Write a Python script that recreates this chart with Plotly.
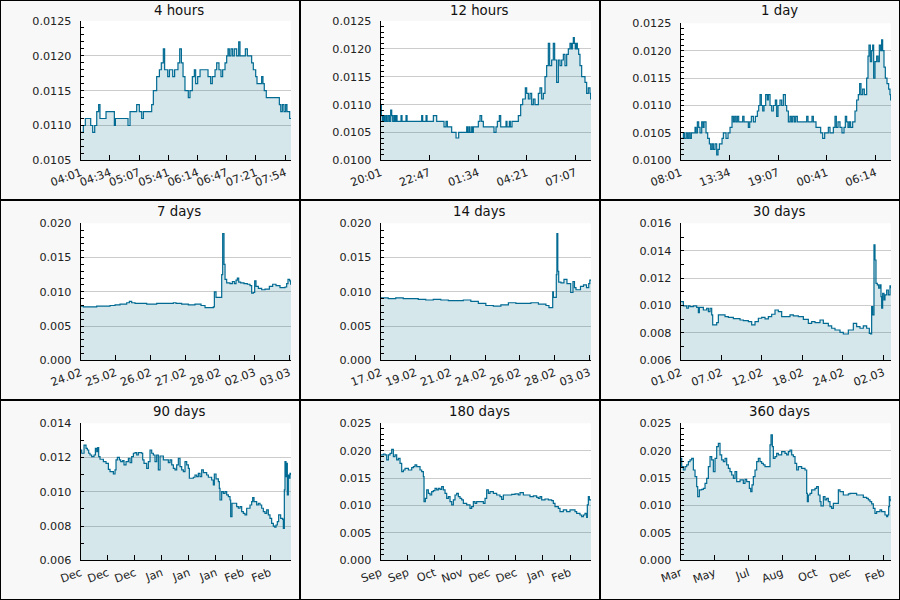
import plotly.graph_objects as go

# ---------------- data (time offset from window start, price) ----------------
# hour panels: minutes; day panels: days
H4 = [(0, .0109), (3, .0110), (5.3, .0111), (11.4, .0110), (13.7, .0109), (16, .0110), (18.3, .0112),
      (20.5, .0113), (22, .0111), (28.9, .0112), (38.4, .0110), (39.6, .0111), (54, .0110), (56.3, .0112),
      (63.9, .0113), (66.9, .0112), (69.6, .0111), (71.5, .0112), (81, .0113), (82.9, .0115), (86.7, .0117),
      (89.8, .0118), (92, .0119), (94.3, .0121), (95.8, .0118), (99.3, .0117), (101.2, .0118), (105, .0117),
      (107.2, .0118), (111, .0119), (113, .0121), (114.9, .0119), (116.8, .0117), (119, .0115), (122.8, .0114),
      (124.7, .0115), (127.4, .0117), (129.7, .0118), (131.2, .0116), (133.5, .0117), (136.2, .0118),
      (145.3, .0117), (148.3, .0116), (150.2, .0117), (153.3, .0118), (155.2, .0119), (157.8, .0118),
      (160.1, .0117), (162, .0118), (164.7, .0119), (166.6, .0120), (168.1, .0121), (169.6, .0120),
      (171.5, .0121), (173.4, .0120), (175.3, .0121), (178, .0120), (180.3, .0122), (181.8, .0120),
      (187.9, .0121), (190.2, .0120), (195.1, .0119), (197, .0118), (199.7, .0117), (201.2, .0116),
      (206.5, .0117), (208, .0116), (209.5, .0115), (211.8, .0114), (226.7, .0113), (228.3, .0112),
      (230.1, .0113), (232, .0112), (233.9, .0113), (235.4, .0112), (238.5, .0111), (240, .0111)]

H12 = [(0, .0110), (2.3, .0108), (5.7, .0107), (9.1, .0108), (12.6, .0107), (17.1, .0108), (20.5, .0107),
       (25.1, .0108), (29.7, .0107), (34.2, .0109), (37.7, .0108), (41.1, .0107), (45.6, .0108), (49.1, .0107),
       (52.5, .0108), (55.9, .0107), (69.6, .0108), (73.0, .0107), (86.7, .0108), (90.2, .0107), (140.3, .0108),
       (143.8, .0107), (155.2, .0108), (158.6, .0107), (180.3, .0108), (191.7, .0107), (216.8, .0106),
       (223.6, .0107), (228.2, .0106), (243.0, .0105), (257.9, .0104), (267.0, .0105), (294.4, .0106),
       (297.8, .0105), (302.4, .0106), (305.8, .0105), (311.5, .0106), (314.9, .0105), (317.2, .0106),
       (334.3, .0107), (340.0, .0108), (345.7, .0107), (351.4, .0106), (387.9, .0105), (394.8, .0106),
       (399.4, .0107), (406.2, .0108), (410.8, .0106), (429.0, .0107), (432.4, .0106), (440.4, .0107),
       (443.8, .0106), (449.6, .0107), (471.2, .0108), (479.2, .0110), (486.1, .0111), (495.2, .0113),
       (499.8, .0112), (505.5, .0111), (511.2, .0112), (516.9, .0110), (522.6, .0111), (528.3, .0110),
       (539.7, .0112), (545.4, .0113), (551.1, .0111), (556.8, .0112), (562.5, .0115), (568.2, .0117),
       (573.9, .0121), (578.5, .0117), (585.3, .0118), (591.0, .0121), (595.6, .0118), (602.4, .0114),
       (608.2, .0118), (613.9, .0117), (619.6, .0118), (625.3, .0119), (631.0, .0117), (636.7, .0119),
       (642.4, .0120), (648.1, .0121), (652.7, .0120), (656.1, .0121), (659.5, .0122), (662.9, .0121),
       (666.3, .0120), (669.8, .0121), (673.2, .0120), (677.8, .0119), (682.3, .0117), (688.0, .0115),
       (699.4, .0114), (705.1, .0112), (710.8, .0113), (716.5, .0112), (718.8, .0111), (720, .0111)]

D1 = [(0, .0104), (18.3, .0105), (25.1, .0104), (36.5, .0105), (45.6, .0104), (54.8, .0105), (63.9, .0104),
      (73.0, .0105), (98.1, .0106), (105.0, .0105), (114.1, .0107), (123.2, .0106), (132.4, .0105),
      (143.8, .0107), (152.9, .0106), (159.7, .0107), (173.4, .0105), (184.8, .0104), (196.3, .0103),
      (205.4, .0102), (214.5, .0103), (223.6, .0102), (235.0, .0103), (246.5, .0101), (255.6, .0102),
      (264.7, .0103), (283.0, .0104), (292.1, .0105), (310.4, .0104), (324.0, .0105), (337.7, .0106),
      (351.4, .0108), (360.6, .0107), (369.7, .0108), (378.8, .0107), (387.9, .0108), (397.1, .0107),
      (424.5, .0108), (433.6, .0107), (463.2, .0106), (472.4, .0107), (483.8, .0108), (497.5, .0107),
      (511.2, .0108), (524.9, .0109), (534.0, .0110), (543.1, .0112), (552.2, .0110), (561.4, .0109),
      (570.5, .0110), (581.9, .0112), (593.3, .0111), (600.2, .0112), (611.6, .0110), (623.0, .0109),
      (634.4, .0110), (648.1, .0111), (657.2, .0108), (666.3, .0110), (680.0, .0111), (691.4, .0110),
      (702.9, .0112), (716.5, .0110), (725.7, .0109), (737.1, .0107), (748.5, .0108), (757.6, .0107),
      (766.8, .0108), (778.2, .0107), (787.3, .0108), (798.7, .0107), (862.6, .0108), (871.7, .0107),
      (899.1, .0108), (908.2, .0107), (926.5, .0106), (958.4, .0105), (972.1, .0104), (985.8, .0105),
      (1010.9, .0106), (1022.3, .0105), (1045.2, .0106), (1056.6, .0108), (1065.7, .0106), (1077.1, .0107),
      (1090.8, .0106), (1104.5, .0105), (1118.2, .0106), (1127.3, .0108), (1136.4, .0107), (1145.6, .0106),
      (1154.7, .0107), (1163.8, .0106), (1177.5, .0107), (1193.5, .0109), (1204.9, .0111), (1216.3, .0112),
      (1225.4, .0114), (1234.6, .0112), (1245.9, .0113), (1257.4, .0112), (1273.4, .0115), (1282.5, .0119),
      (1289.3, .0121), (1298.5, .0118), (1307.6, .0120), (1314.4, .0121), (1321.3, .0115), (1330.4, .0118),
      (1341.8, .0119), (1351.0, .0118), (1360.1, .0121), (1369.2, .0120), (1376.0, .0122), (1382.9, .0120),
      (1392.0, .0117), (1401.2, .0115), (1412.6, .0114), (1424.0, .0113), (1433.1, .0112), (1437.7, .0111),
      (1440, .0111)]

D7 = [(0, .0079), (0.089, .0078), (0.533, .0079), (0.976, .0080), (1.143, .0081), (1.309, .0082),
      (1.531, .0084), (1.620, .0086), (1.697, .0084), (1.808, .0083), (2.197, .0082), (2.529, .0083),
      (3.084, .0084), (3.173, .0083), (3.361, .0082), (3.583, .0081), (3.805, .0082), (4.005, .0080),
      (4.138, .0077), (4.415, .0078), (4.449, .0100), (4.504, .0092), (4.693, .0125), (4.726, .0185),
      (4.770, .0140), (4.804, .0118), (4.859, .0113), (4.970, .0112), (5.048, .0115), (5.114, .0112),
      (5.170, .0117), (5.214, .0120), (5.259, .0114), (5.325, .0113), (5.436, .0112), (5.547, .0111),
      (5.636, .0109), (5.691, .0098), (5.747, .0099), (5.791, .0116), (5.835, .0108), (5.913, .0105),
      (6.024, .0103), (6.135, .0104), (6.279, .0108), (6.390, .0111), (6.501, .0109), (6.634, .0106),
      (6.801, .0107), (6.856, .0112), (6.900, .0118), (6.956, .0116), (6.989, .0111), (7, .0111)]

D14 = [(0, .0091), (0.5, .0090), (1.0, .0091), (1.5, .0090), (2.0, .0090), (2.5, .0089), (3.0, .0088),
       (3.5, .0089), (4.0, .0088), (4.5, .0087), (5.0, .0087), (5.5, .0088), (6.0, .0086), (6.5, .0083),
       (7.0, .0080), (7.5, .0079), (8.0, .0081), (8.5, .0084), (9.0, .0083), (9.5, .0083), (10.0, .0084),
       (10.5, .0082), (11.0, .0080), (11.2, .0077), (11.45, .0100), (11.5, .0092), (11.69, .0125),
       (11.73, .0185), (11.79, .0130), (11.85, .0114), (12.0, .0113), (12.2, .0118), (12.4, .0112),
       (12.65, .0099), (12.8, .0115), (12.9, .0106), (13.0, .0103), (13.3, .0108), (13.5, .0110),
       (13.7, .0106), (13.85, .0112), (13.92, .0117), (14, .0117)]

D30 = [(0, .01028), (0.38, .00997), (0.856, .0098), (1.093, .00997), (1.331, .00992), (1.807, .00997),
       (2.282, .00987), (2.52, .00948), (2.662, .00987), (3.233, .00967), (3.708, .0098), (3.946, .00955),
       (4.184, .0098), (4.421, .00931), (4.564, .00858), (4.897, .00858), (5.134, .00875), (5.372, .00931),
       (5.847, .00931), (6.323, .00919), (6.798, .00914), (7.511, .00904), (8.462, .00894), (8.938, .0089),
       (9.651, .00882), (10.126, .00858), (10.602, .00882), (11.077, .00907), (11.552, .00914),
       (12.028, .00902), (12.503, .00919), (12.978, .00936), (13.454, .00967), (13.929, .00955),
       (14.405, .00919), (14.88, .00919), (15.593, .00931), (16.069, .00924), (16.782, .00919),
       (17.495, .00899), (18.208, .0087), (18.683, .00882), (19.159, .00875), (19.872, .00894),
       (20.347, .0087), (21.06, .00851), (21.536, .00834), (22.011, .00821), (22.724, .00804),
       (23.2, .00792), (23.913, .00821), (24.626, .0087), (25.101, .00846), (25.577, .00834),
       (26.052, .00851), (26.527, .00834), (26.908, .00797), (27.098, .00792), (27.24, .00992),
       (27.383, .00931), (27.573, .01442), (27.716, .01332), (27.858, .01162), (28.049, .0115),
       (28.239, .01126), (28.429, .0115), (28.572, .01065), (28.667, .0098), (28.81, .01089), (29.0, .0104),
       (29.143, .01077), (29.381, .01113), (29.618, .01077), (29.856, .01143), (30, .01126)]

D90 = [(0, .01244), (0.43, .01225), (1.43, .01273), (2.28, .01254), (2.85, .01244), (3.42, .01225),
       (3.99, .01215), (4.71, .01205), (5.71, .01215), (6.28, .01254), (6.85, .01235), (7.27, .01258),
       (7.70, .01205), (8.27, .0119), (9.70, .01176), (10.84, .01166), (11.84, .01131), (12.55, .01118),
       (13.98, .01104), (14.69, .01128), (15.12, .01186), (15.69, .01201), (16.55, .01186), (17.12, .01176),
       (17.97, .01182), (18.54, .01157), (19.40, .01176), (20.40, .01196), (21.11, .0117), (21.82, .01205),
       (22.54, .01225), (23.25, .01229), (23.96, .01215), (24.67, .01229), (26.10, .01225), (26.53, .01186),
       (27.10, .01166), (28.24, .01137), (28.95, .01176), (29.67, .01244), (30.38, .01225), (31.09, .01215),
       (31.81, .01176), (32.52, .01215), (33.23, .01128), (33.95, .01209), (35.37, .01186), (37.51, .0117),
       (38.22, .01186), (38.94, .01157), (39.65, .01137), (40.36, .01128), (41.08, .01157), (41.79, .01196),
       (42.50, .01147), (43.22, .01128), (43.93, .01118), (44.64, .01176), (45.36, .01157), (46.07, .01137),
       (46.50, .01079), (48.21, .01085), (48.92, .01098), (49.64, .01089), (50.35, .01108), (51.06, .01089),
       (51.77, .01128), (52.49, .01112), (53.91, .01098), (54.63, .01085), (56.05, .01069), (56.77, .0104),
       (57.19, .01104), (57.91, .01075), (58.91, .01059), (59.33, .0102), (59.62, .00952), (60.33, .01001),
       (61.05, .00991), (61.76, .01001), (62.47, .00982), (63.18, .00972), (63.90, .00952), (64.18, .00855),
       (64.75, .00933), (66.75, .00913), (67.46, .00904), (68.18, .00913), (68.89, .00884), (69.60, .00874),
       (70.32, .00865), (71.03, .00904), (72.46, .00923), (73.17, .00943), (73.60, .00966), (74.17, .00943),
       (75.31, .00923), (76.02, .00933), (76.73, .00923), (77.45, .00904), (78.16, .00884), (78.87, .00874),
       (79.59, .00894), (80.30, .00865), (81.01, .00845), (81.72, .00816), (82.44, .008), (83.01, .00793),
       (83.58, .00806), (84.15, .00826), (84.72, .00865), (85.58, .00845), (86.43, .00839), (86.72, .00787),
       (87.15, .01011), (87.43, .01176), (87.86, .01089), (88.14, .01166), (88.43, .00982), (88.86, .01098),
       (89.29, .01079), (89.57, .01108), (90, .01098)]

D180 = [(0, .01922), (2.28, .0194), (3.71, .01922), (5.13, .01831), (6.56, .01922), (7.99, .01953),
        (9.41, .02026), (10.84, .01892), (12.27, .01922), (13.69, .01831), (15.12, .01861), (16.55, .0177),
        (17.97, .01618), (19.40, .01648), (20.82, .01679), (23.68, .01648), (26.53, .01691), (27.96, .01709),
        (29.38, .0174), (30.81, .01709), (33.66, .01648), (35.09, .01618), (36.51, .01527), (37.08, .01071),
        (38.22, .01131), (39.37, .01284), (40.79, .01223), (42.22, .01192), (43.64, .01253), (45.07, .01271),
        (46.50, .01314), (47.92, .01284), (49.35, .01314), (50.78, .01296), (52.20, .01344), (53.63, .01284),
        (55.06, .01223), (56.48, .01131), (57.91, .01162), (59.33, .01071), (60.76, .0101), (62.19, .01101),
        (63.61, .01192), (65.04, .01223), (66.47, .01162), (67.89, .01131), (69.32, .01101), (70.74, .0104),
        (73.60, .0101), (76.45, .00949), (77.87, .00979), (79.30, .01071), (80.73, .0104), (82.15, .01071),
        (87.86, .0104), (89.29, .01131), (90.71, .01284), (92.14, .01223), (93.57, .01253), (96.42, .01223),
        (99.27, .01192), (102.12, .01162), (103.55, .01113), (104.98, .01192), (112.11, .01204),
        (114.96, .01211), (117.81, .01192), (119.24, .01235), (122.09, .01192), (127.80, .01162),
        (130.65, .01174), (133.50, .0115), (134.93, .01131), (136.35, .01162), (137.78, .01101),
        (140.63, .01119), (143.49, .01101), (146.34, .01089), (147.76, .0104), (149.19, .00979),
        (152.04, .00949), (153.47, .00888), (156.32, .00919), (159.17, .00888), (162.03, .00919),
        (166.31, .00888), (167.73, .00858), (170.59, .00827), (172.01, .00797), (173.44, .00827),
        (174.86, .00858), (176.29, .00785), (176.86, .0101), (177.72, .01162), (178.57, .01101),
        (179.71, .01101), (180, .01101)]

D360 = [(0, .01861), (1.71, .01709), (4.56, .01648), (7.42, .01709), (10.27, .0174), (13.12, .018),
        (15.97, .01831), (18.83, .01861), (21.68, .01648), (24.53, .01527), (27.38, .01344), (29.10, .01162),
        (31.95, .01284), (35.94, .01296), (38.79, .01314), (41.65, .01405), (44.50, .01496), (47.35, .01709),
        (50.20, .01892), (53.06, .01831), (55.91, .01618), (58.76, .01861), (61.61, .02074), (64.47, .02135),
        (67.32, .01922), (70.17, .01831), (73.02, .018), (75.88, .01861), (78.73, .0174), (81.58, .01679),
        (84.43, .01618), (87.29, .01557), (90.14, .01496), (92.99, .01618), (95.84, .01435), (101.55, .01466),
        (107.25, .01405), (110.10, .01478), (112.96, .01435), (117.52, .01314), (119.81, .01253),
        (122.09, .01375), (124.37, .01527), (127.22, .01648), (130.07, .018), (132.93, .01861),
        (135.78, .018), (138.63, .0177), (141.48, .0174), (144.34, .01709), (152.89, .02105),
        (154.61, .02287), (156.89, .02074), (158.60, .01861), (161.45, .01892), (164.30, .01953),
        (167.16, .01922), (172.86, .01983), (178.57, .01953), (181.42, .01922), (184.27, .01983),
        (187.12, .02013), (189.98, .01922), (192.83, .01892), (195.68, .0177), (198.53, .01648),
        (201.39, .01709), (207.09, .01679), (212.80, .01648), (215.65, .01223), (216.79, .01071),
        (218.50, .01192), (221.35, .01223), (224.21, .01284), (229.91, .01314), (232.76, .01344),
        (235.62, .01192), (238.47, .01071), (240.18, .00992), (244.17, .01162), (247.03, .01101),
        (249.88, .01131), (252.73, .01071), (255.58, .00979), (258.44, .00949), (261.29, .0104),
        (269.85, .01284), (272.70, .01253), (278.40, .01192), (286.96, .01211), (289.81, .01223),
        (301.22, .01192), (312.63, .0115), (318.34, .01131), (321.19, .01101), (324.04, .01071),
        (326.90, .01028), (329.75, .00949), (332.60, .00858), (335.45, .00888), (341.16, .00919),
        (344.01, .00888), (349.72, .00827), (352.57, .00797), (354.28, .00827), (355.99, .00979),
        (357.13, .01162), (358.27, .01101), (360, .01071)]

SERIES = [H4, H12, D1, D7, D14, D30, D90, D180, D360]
TITLES = ["4 hours", "12 hours", "1 day", "7 days", "14 days", "30 days", "90 days", "180 days", "360 days"]
SPAN_S = [4 * 3600, 12 * 3600, 86400, 7 * 86400, 14 * 86400, 30 * 86400, 90 * 86400, 180 * 86400, 360 * 86400]
UNIT_S = [60, 60, 60, 86400, 86400, 86400, 86400, 86400, 86400]
TICK_STEP_S = [2000, 10000, 20000, 100000, 200000, 500000, 1000000, 2000000, 5000000]
XLABELS = [
    ["04:01", "04:34", "05:07", "05:41", "06:14", "06:47", "07:21", "07:54"],
    ["20:01", "22:47", "01:34", "04:21", "07:07"],
    ["08:01", "13:34", "19:07", "00:41", "06:14"],
    ["24.02", "25.02", "26.02", "27.02", "28.02", "02.03", "03.03"],
    ["17.02", "19.02", "21.02", "24.02", "26.02", "28.02", "03.03"],
    ["01.02", "07.02", "12.02", "18.02", "24.02", "02.03"],
    ["Dec", "Dec", "Dec", "Jan", "Jan", "Jan", "Feb", "Feb"],
    ["Sep", "Sep", "Oct", "Nov", "Dec", "Dec", "Jan", "Feb"],
    ["Mar", "May", "Jul", "Aug", "Oct", "Dec", "Feb"],
]
YRANGE = [(0.0105, 0.0125), (0.0100, 0.0125), (0.0100, 0.0125), (0, 0.020), (0, 0.020),
          (0.006, 0.016), (0.006, 0.014), (0, 0.025), (0, 0.025)]
YDTICK = [0.0005, 0.0005, 0.0005, 0.005, 0.005, 0.002, 0.002, 0.005, 0.005]
YMINOR = [0.0001, 0.0001, 0.0001, 0.001, 0.001, 0.001, 0.001, 0.001, 0.001]
YFMT = [".4f", ".4f", ".4f", ".3f", ".3f", ".3f", ".3f", ".3f", ".3f"]

# ---------------- styling / layout ----------------
LINE = "#006a92"
FILL = "rgba(0,104,139,0.16)"
FONT = "DejaVu Sans"
TICKSIZE = 11.2
W, H = 900, 600
PLOT_TOP = [21, 21, 23.3, 23.3, 23.3, 23.3, 23.3, 23.3, 23.3]

fig = go.Figure()
layout = dict(
    width=W, height=H, margin=dict(l=0, r=0, t=0, b=0, pad=0), autosize=False,
    paper_bgcolor="#f8f8f8", plot_bgcolor="white", showlegend=False,
    font=dict(family=FONT, size=TICKSIZE, color="#222"),
    annotations=[], shapes=[],
)

for i, data in enumerate(SERIES):
    r, c = divmod(i, 3)
    n = i + 1
    xs = [p[0] for p in data]
    ys = [p[1] for p in data]
    xa = "x" if n == 1 else f"x{n}"
    ya = "y" if n == 1 else f"y{n}"
    fig.add_trace(go.Scatter(
        x=xs, y=ys, xaxis=xa, yaxis=ya, mode="lines",
        line=dict(color=LINE, width=1.2, shape="hv"),
        fill="tozeroy", fillcolor=FILL, hoverinfo="skip",
    ))
    span = SPAN_S[i] / UNIT_S[i]
    step = TICK_STEP_S[i] / UNIT_S[i]
    tickvals = [k * step for k in range(len(XLABELS[i]))]
    x0 = (300 * c + 80.7) / W
    x1 = (300 * c + 291) / W
    y0 = 1 - (200 * r + 160.3) / H
    y1 = 1 - (200 * r + PLOT_TOP[i]) / H
    layout["xaxis" if n == 1 else f"xaxis{n}"] = dict(
        domain=[x0, x1], anchor=ya, range=[0, span], tickmode="array",
        tickvals=tickvals, ticktext=XLABELS[i], tickangle=-20, automargin=False,
        ticks="inside", ticklen=5, tickcolor="black", tickwidth=1,
        showline=True, linecolor="black", linewidth=1, showgrid=False, zeroline=False,
        tickfont=dict(family=FONT, size=TICKSIZE, color="#222"), fixedrange=True,
        ticklabelstandoff=1,
    )
    layout["yaxis" if n == 1 else f"yaxis{n}"] = dict(
        domain=[y0, y1], anchor=xa, range=list(YRANGE[i]), tick0=YRANGE[i][0], dtick=YDTICK[i],
        tickformat=YFMT[i], ticks="inside", ticklen=3, tickcolor="black", tickwidth=1,
        minor=dict(dtick=YMINOR[i], tick0=YRANGE[i][0], ticks="inside", ticklen=3,
                   tickcolor="black", showgrid=False),
        showgrid=True, gridcolor="#cccccc", gridwidth=1, automargin=False,
        showline=True, linecolor="black", linewidth=1, zeroline=False,
        tickfont=dict(family=FONT, size=TICKSIZE, color="#222"), fixedrange=True,
        ticklabelstandoff=6,
    )
    layout["annotations"].append(dict(
        text=TITLES[i], xref="paper", yref="paper",
        x=(300 * c + 179) / W, y=1 - (200 * r + 11) / H,
        xanchor="center", yanchor="middle", showarrow=False,
        font=dict(family=FONT, size=13.3, color="#111"),
    ))

# cell borders
for k in range(4):
    layout["shapes"].append(dict(type="line", xref="paper", yref="paper", x0=k / 3, x1=k / 3,
                                 y0=0, y1=1, line=dict(color="black", width=2)))
    layout["shapes"].append(dict(type="line", xref="paper", yref="paper", x0=0, x1=1,
                                 y0=k / 3, y1=k / 3, line=dict(color="black", width=2)))

fig.update_layout(**layout)
fig.write_html("out.html")
